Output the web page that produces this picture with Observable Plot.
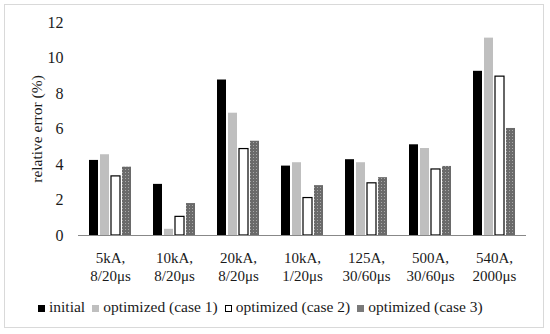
<!DOCTYPE html>
<html>
<head>
<meta charset="utf-8">
<script src="https://cdn.jsdelivr.net/npm/d3@7"></script>
<script src="https://cdn.jsdelivr.net/npm/@observablehq/plot@0.6"></script>
<style>
  html, body { margin: 0; padding: 0; background: #fff; }
  #wrap { position: relative; width: 550px; height: 334px; font-family: "Liberation Serif", "Times New Roman", serif; }
  #border { position: absolute; left: 4px; top: 4px; width: 540px; height: 324px; border: 1.5px solid #d9d9d9; box-sizing: border-box; }
  #chart { position: absolute; left: 0; top: 0; }
  #legend { position: absolute; left: 38px; top: 298px; display: flex; align-items: center; font-size: 15.5px; color: #1a1a1a; white-space: nowrap; }
  .item { display: flex; align-items: center; margin-right: 7px; }
  .sw { width: 7px; height: 7px; margin-right: 4px; box-sizing: border-box; position: relative; top: 1px; }
</style>
</head>
<body>
<div id="wrap">
  <div id="border"></div>
  <div id="chart"></div>
  <div id="legend"></div>
</div>
<script>
const categories = ["5kA,\n8/20μs", "10kA,\n8/20μs", "20kA,\n8/20μs", "10kA,\n1/20μs", "125A,\n30/60μs", "500A,\n30/60μs", "540A,\n2000μs"];
const series = ["initial", "optimized (case 1)", "optimized (case 2)", "optimized (case 3)"];
const initial = [4.23, 2.88, 8.76, 3.91, 4.27, 5.11, 9.25];
const case1   = [4.55, 0.35, 6.89, 4.10, 4.10, 4.90, 11.12];
const case2   = [3.33, 1.05, 4.87, 2.11, 2.94, 3.72, 8.95];
const case3   = [3.85, 1.80, 5.31, 2.81, 3.26, 3.89, 6.03];
const yTicks = [0, 2, 4, 6, 8, 10, 12];
const yLabel = "relative error (%)";

const valuesBySeries = [initial, case1, case2, case3];
const table = [];
categories.forEach((c, i) => series.forEach((s, j) => table.push({category: c, series: s, value: valuesBySeries[j][i]})));

const fills = {"initial": "#000000", "optimized (case 1)": "#bfbfbf", "optimized (case 2)": "#ffffff", "optimized (case 3)": "url(#dots)"};
const strokes = {"initial": "none", "optimized (case 1)": "none", "optimized (case 2)": "#000000", "optimized (case 3)": "none"};

const chart = Plot.plot({
  width: 550,
  height: 290,
  marginLeft: 77,
  marginRight: 23,
  marginTop: 22,
  marginBottom: 55,
  style: {fontFamily: "'Liberation Serif', 'Times New Roman', serif", fontSize: "15px", color: "#1a1a1a", background: "transparent"},
  fx: {domain: categories, padding: 0},
  x: {domain: series, paddingInner: 0.2, paddingOuter: 0.87, axis: null},
  y: {domain: [0, 12], axis: null},
  marks: [
    Plot.barY(table, {
      fx: "category", x: "series", y: "value",
      fill: d => fills[d.series],
      stroke: d => strokes[d.series],
      strokeWidth: 1.2,
      inset: 0
    }),
    Plot.ruleY([0], {stroke: "#888", strokeWidth: 1.2}),
    Plot.axisY({ticks: yTicks, tickSize: 0, tickPadding: 15, tickFormat: d => String(d),
      fontSize: 16, label: null, line: true, stroke: "#888", strokeWidth: 1.2, fill: "#1a1a1a"}),
    Plot.text([yLabel], {facet: "super", frameAnchor: "left", textAnchor: "middle", text: d => d, rotate: -90, dx: -41,
      fontSize: 15.5, fill: "#1a1a1a"}),
    Plot.axisFx({anchor: "bottom", tickSize: 0, tickPadding: 15, label: null, lineHeight: 1.2, fontSize: 15, fill: "#1a1a1a"})
  ]
});

const defs = d3.create("svg:defs");
const pat = defs.append("pattern").attr("id", "dots").attr("patternUnits", "userSpaceOnUse").attr("width", 3).attr("height", 3);
pat.append("rect").attr("width", 3).attr("height", 3).attr("fill", "#6a6a6a");
pat.append("rect").attr("x", 1).attr("y", 1).attr("width", 1).attr("height", 1).attr("fill", "#a8a8a8");
chart.insertBefore(defs.node(), chart.firstChild);
document.getElementById("chart").appendChild(chart);

const legend = d3.select("#legend");
const swStyle = {
  "initial": "background:#000;",
  "optimized (case 1)": "background:#bfbfbf;",
  "optimized (case 2)": "background:#fff;border:1px solid #000;",
  "optimized (case 3)": "background:#7a7a7a;"
};
series.forEach(s => {
  const it = legend.append("div").attr("class", "item");
  it.append("div").attr("class", "sw").attr("style", swStyle[s]);
  it.append("span").text(s);
});
</script>
</body>
</html>
